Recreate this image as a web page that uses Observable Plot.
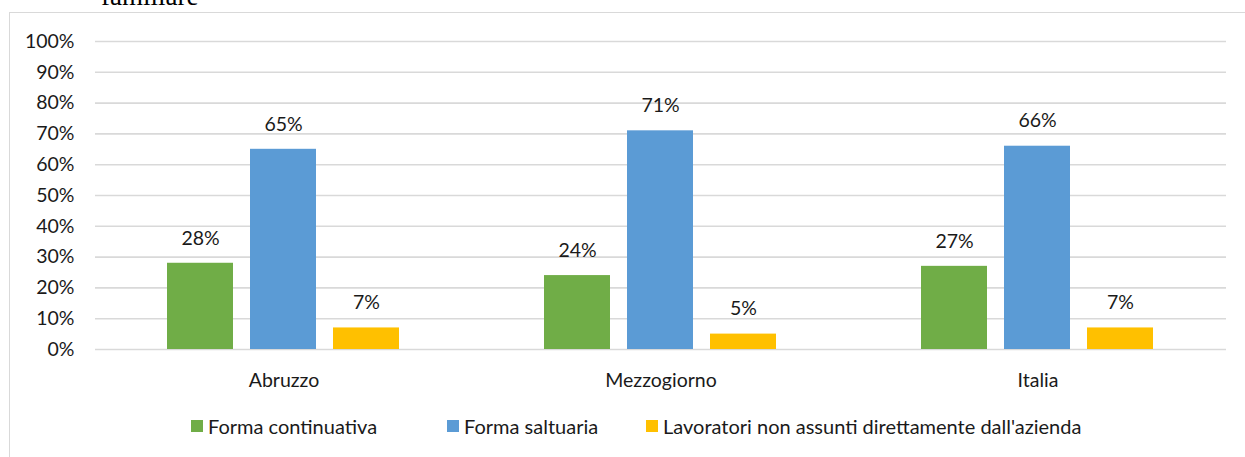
<!DOCTYPE html>
<html>
<head>
<meta charset="utf-8">
<script src="https://cdn.jsdelivr.net/npm/d3@7"></script>
<script src="https://cdn.jsdelivr.net/npm/@observablehq/plot@0.6"></script>
<style>
  html, body { margin: 0; padding: 0; background: #fff; }
  #wrap { position: relative; width: 1245px; height: 457px; overflow: hidden; font-family: Lato, "Open Sans", sans-serif; }
  #title { position: absolute; left: 101px; top: -17px; font-family: "Liberation Serif", "DejaVu Serif", serif; font-size: 27px; line-height: 26px; color: #000; white-space: nowrap; }
  #frame { position: absolute; left: 9px; top: 12px; width: 1300px; height: 500px; border: 1.5px solid #d9d9d9; box-sizing: border-box; }
  #chart { position: absolute; left: 0; top: 0; }
  .leg { position: absolute; top: 415px; display: flex; align-items: center; font-size: 20px; color: #1a1a1a; white-space: nowrap; line-height: 22px; }
  .sw { width: 12px; height: 12px; margin-right: 5px; display: inline-block; }
</style>
</head>
<body>
<div id="wrap">
  <div id="frame"></div>
  <div id="title">familiare</div>
  <div id="chart"></div>
</div>
<script>
const categories = ["Abruzzo", "Mezzogiorno", "Italia"];
const series = ["Forma continuativa", "Forma saltuaria", "Lavoratori non assunti direttamente dall'azienda"];
const formaContinuativa = [28, 24, 27];
const formaSaltuaria = [65, 71, 66];
const nonAssunti = [7, 5, 7];
const yTicks = [0, 10, 20, 30, 40, 50, 60, 70, 80, 90, 100];
const colors = ["#70AD47", "#5B9BD5", "#FFC000"];

const seriesValues = [formaContinuativa, formaSaltuaria, nonAssunti];
const data = [];
categories.forEach((c, i) => {
  series.forEach((s, j) => data.push({category: c, series: s, value: seriesValues[j][i]}));
});

const chart = Plot.plot({
  width: 1245,
  height: 457,
  marginLeft: 94,
  marginRight: 19,
  marginTop: 41,
  marginBottom: 108,
  style: {fontFamily: "Lato, 'Open Sans', sans-serif", fontSize: "19.5px", color: "#1a1a1a", background: "transparent", overflow: "visible"},
  fx: {domain: categories, padding: 0, label: null},
  x: {domain: series, paddingInner: 0.2, paddingOuter: 0.86, axis: null},
  y: {domain: [0, 100], axis: null},
  color: {domain: series, range: colors},
  marks: [
    Plot.ruleY(yTicks, {stroke: "#d9d9d9", strokeWidth: 1.6}),
    Plot.axisY(yTicks, {anchor: "left", tickSize: 0, tickPadding: 21, tickFormat: d => d + "%", fontSize: 19.5, label: null, facetAnchor: "left"}),
    Plot.axisFx({anchor: "bottom", tickSize: 0, tickPadding: 24, fontSize: 19.5, label: null}),
    Plot.barY(data, {fx: "category", x: "series", y: "value", fill: "series"}),
    Plot.text(data, {fx: "category", x: "series", y: "value", text: d => d.value + "%", dy: -25, fontSize: 19.5, fill: "#1a1a1a"})
  ]
});
document.getElementById("chart").appendChild(chart);

const wrap = document.getElementById("wrap");
const legendLeft = [191, 447, 646];
series.forEach((s, j) => {
  const item = document.createElement("div");
  item.className = "leg";
  item.style.left = legendLeft[j] + "px";
  const sw = document.createElement("span");
  sw.className = "sw";
  sw.style.background = chart.scale("color").apply(s);
  item.appendChild(sw);
  item.appendChild(document.createTextNode(s));
  wrap.appendChild(item);
});
</script>
</body>
</html>
